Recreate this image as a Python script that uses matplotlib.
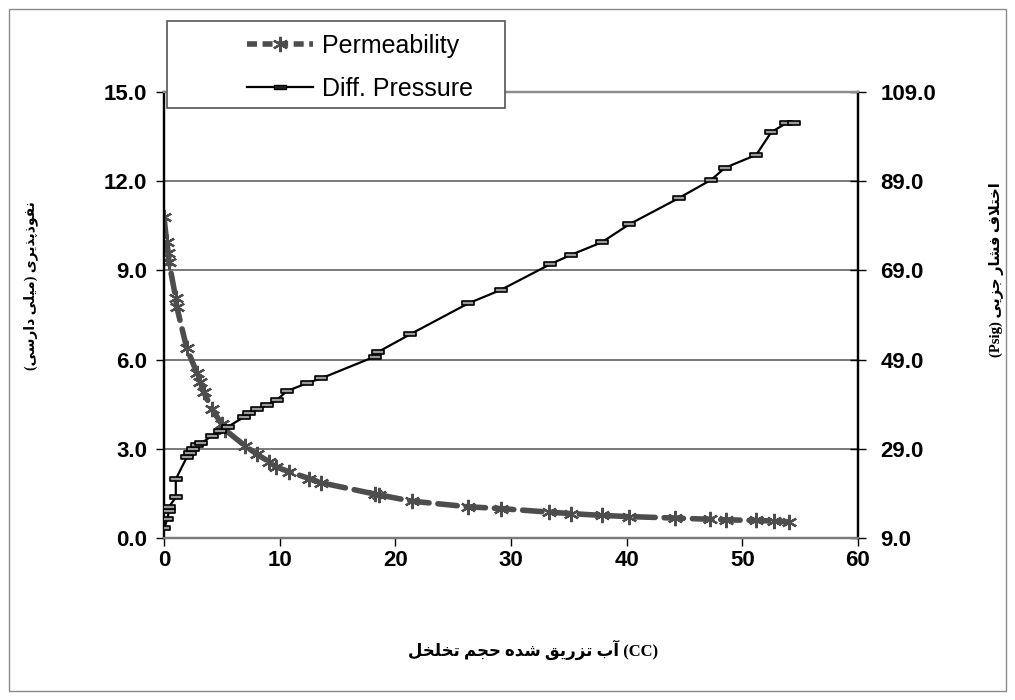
import numpy as np
import matplotlib
matplotlib.use('Agg')
import matplotlib.pyplot as plt
from matplotlib.patches import Rectangle
from matplotlib.lines import Line2D
from matplotlib.path import Path

plt.rcParams['font.family'] = ['Liberation Sans', 'DejaVu Sans']

# injected water volume (CC) and permeability (md), left axis
x_perm = [0, 0.23, 0.37, 0.43, 1.02, 1.1, 1.97, 2.84, 3.13, 3.42, 4.15, 5.0, 5.3,
          7.04, 8.06, 9.07, 9.65, 10.8, 12.55, 13.57, 18.2, 18.6, 21.4, 26.3, 29.1,
          33.3, 35.2, 37.85, 40.2, 44.2, 47.2, 48.6, 51.2, 52.7, 54.0]
perm = [10.79, 9.97, 9.6, 9.29, 8.06, 7.78, 6.38, 5.56, 5.26, 4.92, 4.33, 3.83, 3.63,
        3.09, 2.81, 2.57, 2.40, 2.23, 2.0, 1.86, 1.48, 1.45, 1.24, 1.05, 0.99,
        0.87, 0.82, 0.76, 0.72, 0.67, 0.63, 0.61, 0.59, 0.57, 0.54]

# differential pressure (psig), right axis
x_dp = [0, 0.29, 0.43, 0.43, 1.02, 1.02, 1.97, 2.26, 2.55, 2.84, 3.19, 4.15, 4.87,
        5.5, 6.9, 7.33, 8.06, 8.93, 9.74, 10.6, 12.4, 13.6, 18.2, 18.5, 21.3, 26.3,
        29.1, 33.4, 35.2, 37.85, 40.2, 44.5, 47.3, 48.5, 51.2, 52.5, 53.8, 54.5]
dp = [11.2, 13.2, 15.1, 16.0, 18.1, 22.2, 27.1, 28.0, 28.9, 29.8, 30.2, 31.9, 32.9,
      33.9, 36.1, 37.0, 37.9, 38.8, 39.9, 41.9, 43.75, 44.8, 49.65, 50.7, 54.7, 61.6,
      64.6, 70.4, 72.5, 75.3, 79.3, 85.2, 89.3, 92.0, 94.9, 100.0, 102.0, 102.0]

left_ticks = [0, 3, 6, 9, 12, 15]
right_ticks = [9, 29, 49, 69, 89, 109]
x_ticks = [0, 10, 20, 30, 40, 50, 60]

# minimal Arabic/Persian shaping (matplotlib has no text shaping)
FORMS = {
    'ا': (0xFE8D, 0xFE8E), 'آ': (0xFE81, 0xFE82), 'د': (0xFEA9, 0xFEAA),
    'ذ': (0xFEAB, 0xFEAC), 'ر': (0xFEAD, 0xFEAE), 'ز': (0xFEAF, 0xFEB0),
    'و': (0xFEED, 0xFEEE), 'لا': (0xFEFB, 0xFEFC),
    'ب': (0xFE8F, 0xFE90, 0xFE91, 0xFE92), 'پ': (0xFB56, 0xFB57, 0xFB58, 0xFB59),
    'ت': (0xFE95, 0xFE96, 0xFE97, 0xFE98), 'ج': (0xFE9D, 0xFE9E, 0xFE9F, 0xFEA0),
    'ح': (0xFEA1, 0xFEA2, 0xFEA3, 0xFEA4), 'خ': (0xFEA5, 0xFEA6, 0xFEA7, 0xFEA8),
    'س': (0xFEB1, 0xFEB2, 0xFEB3, 0xFEB4), 'ش': (0xFEB5, 0xFEB6, 0xFEB7, 0xFEB8),
    'ف': (0xFED1, 0xFED2, 0xFED3, 0xFED4), 'ق': (0xFED5, 0xFED6, 0xFED7, 0xFED8),
    'ل': (0xFEDD, 0xFEDE, 0xFEDF, 0xFEE0), 'م': (0xFEE1, 0xFEE2, 0xFEE3, 0xFEE4),
    'ن': (0xFEE5, 0xFEE6, 0xFEE7, 0xFEE8), 'ه': (0xFEE9, 0xFEEA, 0xFEEB, 0xFEEC),
    'ی': (0xFBFC, 0xFBFD, 0xFBFE, 0xFBFF),
}


def shape(word):
    units = []
    i = 0
    while i < len(word):
        if word[i:i + 2] == 'لا':
            units.append('لا')
            i += 2
        else:
            units.append(word[i])
            i += 1
    out = []
    for k, u in enumerate(units):
        f = FORMS.get(u)
        if f is None:
            out.append(u)
            continue
        prev = units[k - 1] if k > 0 else None
        nxt = units[k + 1] if k + 1 < len(units) else None
        jp = prev in FORMS and len(FORMS[prev]) == 4
        jn = len(f) == 4 and nxt in FORMS
        if jn:
            idx = 3 if jp else 2
        else:
            idx = 1 if jp else 0
        out.append(chr(f[idx]))
    # reversed for left-to-right drawing
    return ''.join(out)[::-1]


xlabel = ' '.join(shape(w) for w in ['تخلخل', 'حجم', 'شده', 'تزریق', 'آب']) + ' (CC)'
ylabel_left = '(' + shape('دارسی') + ' ' + shape('میلی') + ') ' + shape('نفوذپذیری')
ylabel_right = '(Psig) ' + shape('جزیی') + ' ' + shape('فشار') + ' ' + shape('اختلاف')

W, H = 1015, 700
fig = plt.figure(figsize=(W / 100, H / 100), dpi=100)
ax = fig.add_axes([164 / W, 1 - 538 / H, (858 - 164) / W, (538 - 92) / H])
ax2 = ax.twinx()

gray = '#4d4d4d'
ax.plot(x_perm, perm, color=gray, lw=4.0, dashes=(3.5, 1.6), dash_capstyle='round',
        marker=(6, 2, 0), markersize=11, markeredgewidth=1.6, markeredgecolor=gray,
        zorder=3)

rect_marker = Path([(-1, -0.38), (1, -0.38), (1, 0.38), (-1, 0.38), (-1, -0.38)],
                   [1, 2, 2, 2, 79])
ax2.plot(x_dp, dp, color='black', lw=1.6, marker=rect_marker, markersize=9,
         markerfacecolor='#9a9a9a', markeredgecolor='black', markeredgewidth=1.2,
         zorder=3)

ax.set_xlim(0, 60)
ax.set_ylim(0, 15)
ax2.set_ylim(9, 109)
ax.set_xticks(x_ticks)
ax.set_yticks(left_ticks)
ax2.set_yticks(right_ticks)
ax.set_xticklabels([str(t) for t in x_ticks])
ax.set_yticklabels(['%.1f' % t for t in left_ticks])
ax2.set_yticklabels(['%.1f' % t for t in right_ticks])

for t in [3, 6, 9, 12]:
    ax.axhline(t, color='#555555', lw=1.1, zorder=1)

ax.tick_params(axis='x', direction='out', length=6, width=1, pad=3, labelsize=16)
ax.tick_params(axis='y', direction='out', length=6, width=1, pad=6, labelsize=16)
ax2.tick_params(axis='y', direction='inout', length=12, width=1, pad=10, labelsize=16)
for lab in ax.get_xticklabels() + ax.get_yticklabels() + ax2.get_yticklabels():
    lab.set_fontweight('bold')

for a in (ax, ax2):
    a.spines['left'].set_color('black')
    a.spines['right'].set_color('black')
    a.spines['top'].set_color('#8c8c8c')
    a.spines['bottom'].set_color('#7a7a7a')
    for s in a.spines.values():
        s.set_linewidth(1.6)

# axis titles
lab_fam = ['Liberation Serif', 'DejaVu Sans Condensed', 'DejaVu Sans']
fig.text(533 / W, 1 - 650 / H, xlabel, ha='center', va='center', fontsize=12,
         fontweight='bold', family=lab_fam)
fig.text(31 / W, 1 - 286 / H, ylabel_left, ha='center', va='center', fontsize=10,
         fontweight='bold', rotation=90, family=lab_fam)
fig.text(996 / W, 1 - 270 / H, ylabel_right, ha='center', va='center', fontsize=10.5,
         fontweight='bold', rotation=90, family=lab_fam)

# legend box
fig.patches.append(Rectangle((167 / W, 1 - 108 / H), (505 - 167) / W, (108 - 21) / H,
                             transform=fig.transFigure, facecolor='white',
                             edgecolor='#555555', lw=1.2, zorder=4))
handles = [
    Line2D([], [], color=gray, lw=4.0, dashes=(1.8, 1.0), marker=(6, 2, 0),
           markersize=11, markeredgewidth=1.6),
    Line2D([], [], color='black', lw=1.6, marker=rect_marker, markersize=9,
           markerfacecolor='#222222', markeredgecolor='black'),
]
leg = fig.legend(handles, ['Permeability', 'Diff. Pressure'], loc='upper left',
                 bbox_to_anchor=(247 / W, 1 - 34 / H), bbox_transform=fig.transFigure,
                 frameon=False, fontsize=18, borderpad=0, borderaxespad=0,
                 handlelength=2.64, handletextpad=0.36, labelspacing=0.76,
                 numpoints=1)
leg.set_zorder(5)

# outer chart border
fig.patches.append(Rectangle((9 / W, 9 / H), (1006 - 9) / W, (691 - 9) / H,
                             transform=fig.transFigure, fill=False,
                             edgecolor='#8a8a8a', lw=1.0, zorder=0))

fig.savefig('out.png', dpi=100)
